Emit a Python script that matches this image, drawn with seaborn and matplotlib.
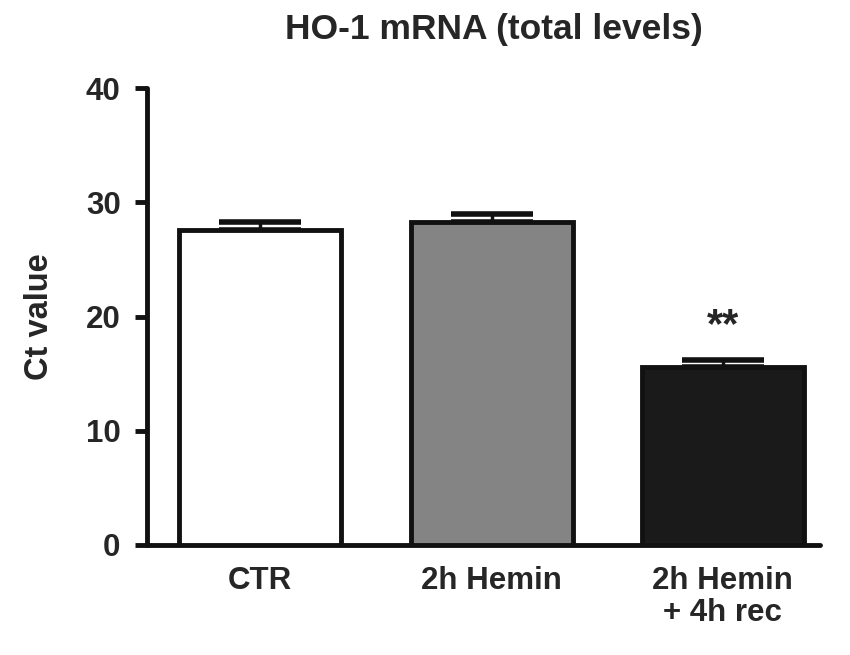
import numpy as np
import pandas as pd
import matplotlib
matplotlib.use("Agg")
import matplotlib.pyplot as plt
import seaborn as sns

# values
groups = ["CTR", "2h Hemin", "2h Hemin\n+ 4h rec"]
ct_mean = [27.6, 28.3, 15.6]
ct_sem = [0.7, 0.7, 0.6]
bar_colors = ["#ffffff", "#848484", "#1a1a1a"]

sns.set_style("ticks")
plt.rcParams["font.family"] = ["Liberation Sans", "DejaVu Sans"]
plt.rcParams["font.weight"] = "bold"

df = pd.DataFrame({"group": groups, "ct": ct_mean})

fig = plt.figure(figsize=(8.5, 6.55), dpi=100)
ax = fig.add_axes([147 / 850, 1 - 545 / 655, (820 - 147) / 850, 457 / 655])

sns.barplot(data=df, x="group", y="ct", hue="group", palette=bar_colors,
            legend=False, width=0.7, edgecolor="#111111", linewidth=3.5,
            errorbar=None, ax=ax, zorder=3)

# upper error bars only
x = np.arange(len(groups))
ax.errorbar(x, ct_mean, yerr=[np.zeros(len(groups)), ct_sem], fmt="none",
            ecolor="#111111", elinewidth=2.5, capsize=29.5, capthick=4, zorder=2)

ax.text(2, 19.2, "**", ha="center", va="center", fontsize=30,
        fontweight="bold")

ax.set_ylim(0, 40)
ax.set_xlim(-0.49, 2.42)
ax.set_yticks([0, 10, 20, 30, 40])
ax.set_xlabel("")
ax.set_ylabel("Ct value", fontsize=23.5, fontweight="bold", labelpad=22)
ax.set_title("HO-1 mRNA (total levels)", fontsize=25.5, fontweight="bold",
             pad=35, x=0.516)

for side in ["top", "right"]:
    ax.spines[side].set_visible(False)
for side in ["left", "bottom"]:
    ax.spines[side].set_linewidth(3.5)
    ax.spines[side].set_color("#111111")
    ax.spines[side].set_capstyle("round")

ax.tick_params(axis="y", length=9, width=3.5, color="#111111", pad=10,
               labelsize=22.5)
ax.tick_params(axis="x", length=0, pad=15, labelsize=22.5)
for lab in ax.get_xticklabels() + ax.get_yticklabels():
    lab.set_fontweight("bold")
    lab.set_linespacing(1.1)

fig.savefig("out.png", dpi=100)
